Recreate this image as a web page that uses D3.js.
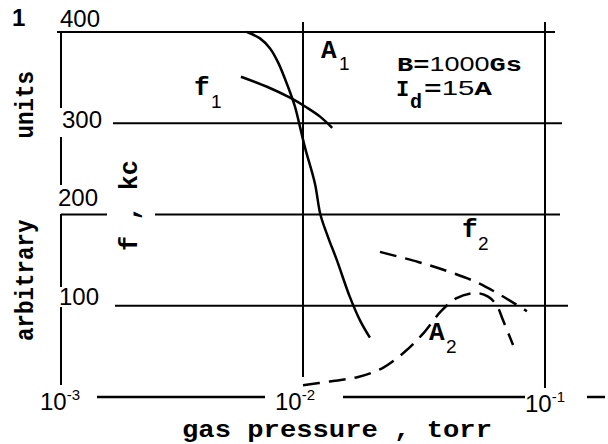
<!DOCTYPE html>
<html>
<head>
<meta charset="utf-8">
<script src="https://cdn.jsdelivr.net/npm/d3@7"></script>
<style>
    body { margin: 0; background: #fff; }
    svg { display: block; }
    .mono { font-family: "Liberation Mono", "DejaVu Sans Mono", monospace; font-weight: bold; fill: #000; }
    .sans { font-family: "Liberation Sans", Arial, sans-serif; fill: #000; }
</style>
</head>
<body>
<svg id="vis" width="608" height="444"></svg>
<script>
// curves: [gas pressure (torr), value]
var a1Data = [[0.00587, 400], [0.00664, 393], [0.00731, 382], [0.00788, 367], [0.00867, 340],
              [0.00927, 318], [0.00972, 296], [0.0102, 273], [0.0112, 234], [0.0118, 200],
              [0.0127, 175], [0.0138, 150], [0.0156, 110], [0.0172, 84], [0.0189, 65]];
var f1Data = [[0.00554, 351], [0.0071, 340], [0.00884, 328], [0.0104, 317], [0.0118, 307], [0.0132, 295]];
var f2Data = [[0.0208, 159], [0.0299, 148], [0.0394, 138], [0.0509, 127], [0.0633, 114], [0.0842, 94]];
var a2Data = [[0.01, 13], [0.0129, 17], [0.0169, 22], [0.0214, 32], [0.0262, 49], [0.031, 68],
              [0.0372, 94], [0.0429, 108], [0.0514, 114], [0.0582, 110], [0.0633, 100],
              [0.0671, 84], [0.0738, 57]];

// ticks
var yTicks = [100, 200, 300, 400];
var xTicks = [1e-3, 1e-2, 1e-1];
var xTickExp = ["-3", "-2", "-1"];

var svg = d3.select("#vis");
var x = d3.scaleLog().domain([1e-3, 1e-1]).range([61, 545]);
var y = d3.scaleLinear().domain([0, 400]).range([397, 32]);

function seg(x1, y1, x2, y2, w) {
    svg.append("line")
       .attr("x1", x1).attr("y1", y1)
       .attr("x2", x2).attr("y2", y2)
       .attr("stroke", "#000")
       .attr("stroke-width", w || 2);
}

// horizontal grid lines (broken where the labels sit)
seg(x(1e-3) - 4, y(400), x(1e-1) + 10, y(400));
seg(113, y(300), x(1e-1) + 17, y(300));
seg(x(1e-3), y(200), 107, y(200));
seg(155, y(200), x(1e-1) + 15, y(200));
seg(115, y(100), x(1e-1) + 23, y(100));
seg(97, y(0), 265, y(0), 2.5);
seg(343, y(0), 525, y(0), 2.5);
seg(587, y(0), 605, y(0), 2.5);

// vertical lines
[[y(400), 108], [137, 185], [214, 287], [307, 385]].forEach(function (s) {
    seg(x(1e-3), s[0], x(1e-3), s[1]);
});
seg(x(1e-2), y(400) - 10, x(1e-2), 377);
seg(x(1e-1), y(400) - 10, x(1e-1), 388);

// y tick labels
var yLabelX = [59, 58, 62, 60];
var yLabelDy = [-1, -9, 5, -5];
yTicks.forEach(function (v, i) {
    svg.append("text")
       .attr("class", "sans")
       .attr("x", yLabelX[i])
       .attr("y", y(v) + yLabelDy[i])
       .style("font-size", "24px")
       .text(v);
});

// x tick labels 10^n
var xLabelDx = [-21, -28, -20];
var xLabelY = [410, 410, 412];
xTicks.forEach(function (t, i) {
    var g = svg.append("text")
               .attr("class", "sans")
               .attr("x", x(t) + xLabelDx[i])
               .attr("y", xLabelY[i])
               .style("font-size", "24px");
    g.append("tspan").text("10");
    g.append("tspan").attr("dy", -10).style("font-size", "15px").text(xTickExp[i]);
});

// figure number
svg.append("text").attr("class", "sans").attr("x", 12).attr("y", 26)
   .style("font-size", "24px").style("font-weight", "bold").text("1");

// axis titles
svg.append("text")
   .attr("class", "mono")
   .attr("x", 182).attr("y", 437)
   .attr("textLength", 310).attr("lengthAdjust", "spacingAndGlyphs")
   .style("font-size", "24px")
   .text("gas pressure , torr");

svg.append("text")
   .attr("class", "mono")
   .attr("transform", "translate(33,341) rotate(-90)")
   .attr("textLength", 270).attr("lengthAdjust", "spacingAndGlyphs")
   .style("font-size", "26px")
   .style("white-space", "pre")
   .text("arbitrary      units");

svg.append("text")
   .attr("class", "mono")
   .attr("transform", "translate(137,251) rotate(-90)")
   .attr("textLength", 91).attr("lengthAdjust", "spacingAndGlyphs")
   .style("font-size", "25px")
   .style("white-space", "pre")
   .text("f , kc");

// curves
var line = d3.line()
    .x(function (d) { return x(d[0]); })
    .y(function (d) { return y(d[1]); })
    .curve(d3.curveCatmullRom.alpha(0.5));

svg.append("path").datum(a1Data).attr("d", line)
   .attr("fill", "none").attr("stroke", "#000").attr("stroke-width", 2.5);
svg.append("path").datum(f1Data).attr("d", line)
   .attr("fill", "none").attr("stroke", "#000").attr("stroke-width", 2.5);
svg.append("path").datum(f2Data).attr("d", line)
   .attr("fill", "none").attr("stroke", "#000").attr("stroke-width", 2.5)
   .attr("stroke-dasharray", "17,9");
svg.append("path").datum(a2Data).attr("d", line)
   .attr("fill", "none").attr("stroke", "#000").attr("stroke-width", 2.5)
   .attr("stroke-dasharray", "17,9");

// curve labels, subscripts as separate texts
function label(px, py, main, sub, subX, subY) {
    svg.append("text").attr("class", "mono").attr("x", px).attr("y", py)
       .style("font-size", "26px").text(main);
    svg.append("text").attr("class", "sans").attr("x", subX).attr("y", subY)
       .style("font-size", "19px").text(sub);
}
label(321, 58, "A", "1", 339, 70);
label(194, 95, "f", "1", 211, 108);
label(462, 237, "f", "2", 478, 250);
label(429, 340, "A", "2", 446, 353);

// run conditions
var b = svg.append("text").attr("x", 397).attr("y", 71)
           .attr("textLength", 125).attr("lengthAdjust", "spacingAndGlyphs");
b.append("tspan").attr("class", "mono").style("font-size", "21px").text("B=");
b.append("tspan").attr("class", "sans").style("font-size", "21px").text("1000");
b.append("tspan").attr("class", "mono").style("font-size", "21px").text("Gs");

svg.append("text").attr("class", "mono").attr("x", 396).attr("y", 96)
   .style("font-size", "22px").text("I");
svg.append("text").attr("class", "mono").attr("x", 410).attr("y", 108)
   .style("font-size", "20px").text("d");
var id = svg.append("text").attr("x", 424).attr("y", 95)
            .attr("textLength", 68).attr("lengthAdjust", "spacingAndGlyphs");
id.append("tspan").attr("class", "mono").style("font-size", "21px").text("=");
id.append("tspan").attr("class", "sans").style("font-size", "21px").text("15");
id.append("tspan").attr("class", "mono").style("font-size", "21px").text("A");
</script>
</body>
</html>
